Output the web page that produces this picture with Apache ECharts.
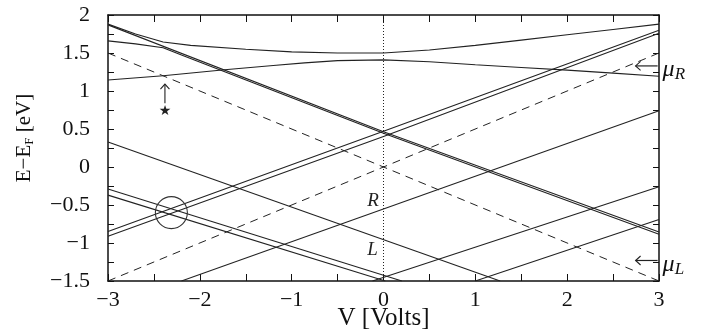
<!DOCTYPE html>
<html><head><meta charset="utf-8">
<script src="https://cdn.jsdelivr.net/npm/echarts@6/dist/echarts.min.js"></script>
<style>html,body{margin:0;padding:0;background:#fff}#c{width:709px;height:335px}</style>
</head><body><div id="c"></div>
<script>
// ---- data (V in volts, E - E_F in eV) ----
const xTickValues = [-3, -2, -1, 0, 1, 2, 3];
const xTickLabels = ['−3', '−2', '−1', '0', '1', '2', '3'];
const yTickValues = [-1.5, -1, -0.5, 0, 0.5, 1, 1.5, 2];
const yTickLabels = ['−1.5', '−1', '−0.5', '0', '0.5', '1', '1.5', '2'];

const bandTop = [[-3,1.88],[-2.7,1.75],[-2.4,1.645],[-2.1,1.60],[-1.5,1.55],[-1,1.515],[-0.5,1.50],[0,1.50],[0.5,1.54],[1,1.60],[1.5,1.67],[2,1.74],[2.5,1.81],[3,1.88]];
const bandMid = [[-3,1.145],[-2.4,1.20],[-1.73,1.28],[-1.2,1.335],[-0.86,1.37],[-0.5,1.40],[0,1.41],[0.5,1.385],[1,1.345],[1.5,1.31],[2,1.275],[2.5,1.235],[3,1.195]];
const downT1 = [[-3,1.87],[0,0.465],[3,-0.855]];
const downT2 = [[-3,1.66],[-2.7,1.62],[-2.4,1.57],[-2.2,1.475],[0,0.445],[3,-0.885]];
const upU1 = [[-3,-0.85],[0,0.47],[3,1.80]];
const upU2 = [[-3,-0.91],[0,0.40],[3,1.76]];
const downD1 = [[-3,0.33],[1.27,-1.5]];
const downP1 = [[-3,-0.29],[0.2,-1.5]];
const downP2 = [[-3,-0.37],[0.02,-1.5]];
const upE1 = [[-2.2,-1.5],[3,0.74]];
const upE2 = [[-0.12,-1.5],[3,-0.26]];
const upE3 = [[1.0,-1.5],[3,-0.69]];
const muRLine = [[-3,-1.5],[3,1.5]];
const muLLine = [[-3,1.5],[3,-1.5]];
const zeroBias = [[0,-1.5],[0,2]];

// annotations (data coordinates)
const circleCenter = [-2.31, -0.60];
const starPos = [-2.38, 0.73];
const upArrow = [[-2.38, 0.84], [-2.38, 1.09]];
const muRArrow = [[2.985, 1.33], [2.745, 1.33]];
const muLArrow = [[2.985, -1.23], [2.745, -1.23]];
const labelR = [-0.115, -0.45];
const labelL = [-0.12, -1.09];

const INK = '#222';
const FONT = 'Liberation Serif';

function fmt(values, labels) {
  return function (v) {
    for (let i = 0; i < values.length; i++) if (Math.abs(values[i] - v) < 1e-6) return labels[i];
    return '';
  };
}
function solid(data) {
  return { type: 'line', data: data, showSymbol: false, symbol: 'none', silent: true,
    lineStyle: { color: INK, width: 1.1 }, z: 3 };
}
function dashed(data) {
  return { type: 'line', data: data, showSymbol: false, symbol: 'none', silent: true,
    lineStyle: { color: INK, width: 1, type: [8, 6] }, z: 3 };
}

const axisLineStyle = { show: true, onZero: false, lineStyle: { color: '#111', width: 1.5 } };

const option = {
  animation: false,
  backgroundColor: '#fff',
  grid: { left: 108, right: 50, top: 15, bottom: 54, containLabel: false, outerBoundsMode: 'none' },
  xAxis: [
    { type: 'value', min: -3, max: 3, interval: 0.5, position: 'bottom',
      axisLine: axisLineStyle, splitLine: { show: false },
      axisTick: { inside: true, length: 7, lineStyle: { color: '#111', width: 1 } },
      axisLabel: { formatter: fmt(xTickValues, xTickLabels), fontFamily: FONT, fontSize: 22, color: '#111', margin: 8, showMinLabel: true, showMaxLabel: true },
      name: 'V [Volts]', nameLocation: 'middle', nameGap: 25, nameMoveOverlap: false,
      nameTextStyle: { fontFamily: FONT, fontSize: 25, color: '#111' } },
    { type: 'value', min: -3, max: 3, interval: 0.5, position: 'top',
      axisLine: axisLineStyle, splitLine: { show: false },
      axisTick: { inside: true, length: 7, lineStyle: { color: '#111', width: 1 } },
      axisLabel: { show: false } }
  ],
  yAxis: [
    { type: 'value', min: -1.5, max: 2, interval: 0.25, position: 'left',
      axisLine: axisLineStyle, splitLine: { show: false },
      axisTick: { inside: true, length: 6, lineStyle: { color: '#111', width: 1 } },
      axisLabel: { formatter: fmt(yTickValues, yTickLabels), fontFamily: FONT, fontSize: 22, color: '#111', margin: 18, showMinLabel: true, showMaxLabel: true },
      name: '{a|E−E}{s|F}{a| [eV]}', nameLocation: 'middle', nameGap: 72, nameRotate: 90, nameMoveOverlap: false,
      nameTextStyle: { padding: [0, 0, 0, 20], rich: {
        a: { fontFamily: FONT, fontSize: 21, color: '#111' },
        s: { fontFamily: FONT, fontSize: 13, color: '#111', padding: [10, 0, 0, 0] } } } },
    { type: 'value', min: -1.5, max: 2, interval: 0.25, position: 'right',
      axisLine: axisLineStyle, splitLine: { show: false },
      axisTick: { inside: true, length: 6, lineStyle: { color: '#111', width: 1 } },
      axisLabel: { show: false } }
  ],
  series: [
    dashed(muRLine), dashed(muLLine),
    { type: 'line', data: zeroBias, showSymbol: false, symbol: 'none', silent: true,
      lineStyle: { color: '#222', width: 1, type: [1, 2] }, z: 2 },
    solid(bandTop), solid(bandMid), solid(downT1), solid(downT2),
    solid(upU1), solid(upU2), solid(downD1), solid(downP1), solid(downP2),
    solid(upE1), solid(upE2), solid(upE3)
  ]
};

const chart = echarts.init(document.getElementById('c'), null, { renderer: 'canvas' });
chart.setOption(option);

const P = function (pt) { return chart.convertToPixel({ xAxisIndex: 0, yAxisIndex: 0 }, pt); };

function leftArrow(a) {
  const tail = P(a[0]), tip = P(a[1]);
  return [
    { type: 'line', shape: { x1: tail[0], y1: tail[1], x2: tip[0], y2: tip[1] }, style: { stroke: INK, lineWidth: 1.2 } },
    { type: 'polyline', shape: { points: [[tip[0] + 5, tip[1] - 4.5], [tip[0], tip[1]], [tip[0] + 5, tip[1] + 4.5]] }, style: { stroke: INK, lineWidth: 1.1, fill: null } }
  ];
}
const cc = P(circleCenter);
const sp = P(starPos);
const ua0 = P(upArrow[0]), ua1 = P(upArrow[1]);
const rP = P(labelR), lP = P(labelL);
const mr = P(muRArrow[0]), ml = P(muLArrow[0]);

const muRich = {
  m: { fontFamily: FONT, fontStyle: 'italic', fontSize: 24, fill: '#111' },
  s: { fontFamily: FONT, fontStyle: 'italic', fontSize: 17, fill: '#111', padding: [10, 0, 0, 0] }
};

const graphics = [
  { type: 'circle', shape: { cx: cc[0], cy: cc[1], r: 16 }, style: { fill: null, stroke: '#333', lineWidth: 1.1 }, z: 10 },
  { type: 'text', x: sp[0], y: sp[1], style: { text: '★', fontSize: 14, fill: INK, align: 'center', verticalAlign: 'middle', fontFamily: 'DejaVu Sans' }, z: 10 },
  { type: 'line', shape: { x1: ua0[0], y1: ua0[1], x2: ua1[0], y2: ua1[1] }, style: { stroke: INK, lineWidth: 1.1 }, z: 10 },
  { type: 'polyline', shape: { points: [[ua1[0] - 4.5, ua1[1] + 5], [ua1[0], ua1[1]], [ua1[0] + 4.5, ua1[1] + 5]] }, style: { stroke: INK, lineWidth: 1.1, fill: null }, z: 10 },
  { type: 'text', x: rP[0], y: rP[1], style: { text: 'R', fontFamily: FONT, fontStyle: 'italic', fontSize: 19, fill: '#222', align: 'center', verticalAlign: 'middle' }, z: 10 },
  { type: 'text', x: lP[0], y: lP[1], style: { text: 'L', fontFamily: FONT, fontStyle: 'italic', fontSize: 19, fill: '#222', align: 'center', verticalAlign: 'middle' }, z: 10 },
  { type: 'text', x: mr[0] + 5, y: mr[1] + 4, style: { text: '{m|μ}{s|R}', rich: muRich, align: 'left', verticalAlign: 'middle' }, z: 10 },
  { type: 'text', x: ml[0] + 5, y: ml[1] + 4, style: { text: '{m|μ}{s|L}', rich: muRich, align: 'left', verticalAlign: 'middle' }, z: 10 }
].concat(leftArrow(muRArrow)).concat(leftArrow(muLArrow));

chart.setOption({ graphic: graphics });
</script>
</body></html>
